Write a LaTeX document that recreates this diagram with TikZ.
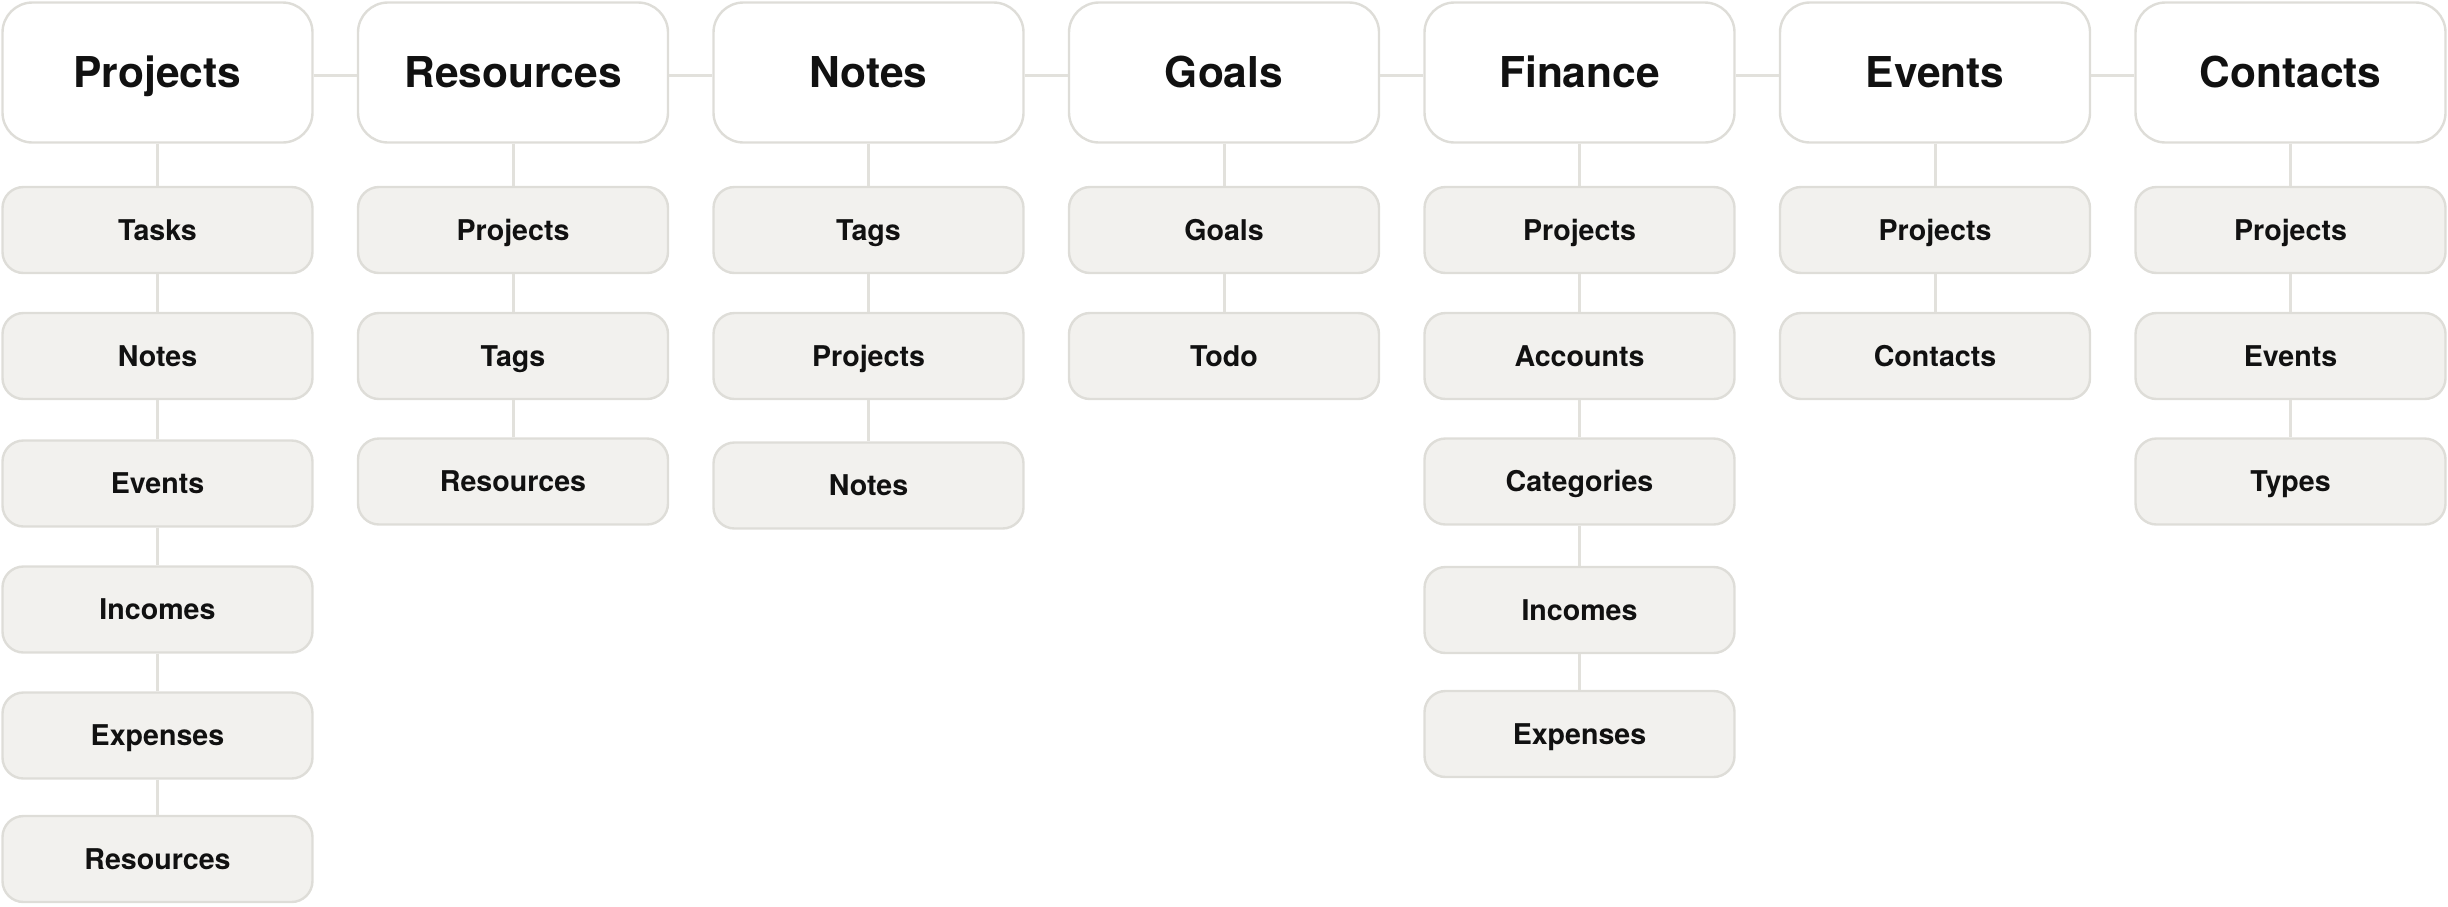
\documentclass[tikz,border=0pt]{standalone}
\usepackage{fontspec}
\setmainfont{TeX Gyre Heros}
\definecolor{bordercol}{HTML}{DEDDD8}
\definecolor{childfill}{HTML}{F2F1EE}
\definecolor{linecol}{HTML}{E2E1DC}
\definecolor{textcol}{HTML}{111111}
\tikzset{
  headbox/.style={draw=bordercol, line width=2.4pt, fill=white, rounded corners=30pt,
    minimum width=310pt, minimum height=140pt, inner sep=0pt, text=textcol,
    text height=30.5pt, text depth=0pt,
    font=\fontsize{42.5}{50}\selectfont\bfseries},
  childbox/.style={draw=bordercol, line width=2.4pt, fill=childfill, rounded corners=21pt,
    minimum width=310pt, minimum height=86pt, inner sep=0pt, text=textcol,
    text height=20.5pt, text depth=0pt,
    font=\fontsize{28.6}{34}\selectfont\bfseries},
  link/.style={draw=linecol, line width=3pt}
}
\begin{document}
\begin{tikzpicture}[x=1pt,y=-1pt]
\useasboundingbox (0,0) rectangle (2448,906);
% heads
\node[headbox] (h1) at (157.5,72.5) {Projects};
\node[headbox] (h2) at (513,72.5) {Resources};
\node[headbox] (h3) at (868.5,72.5) {Notes};
\node[headbox] (h4) at (1224,72.5) {Goals};
\node[headbox] (h5) at (1579.5,72.5) {Finance};
\node[headbox] (h6) at (1935,72.5) {Events};
\node[headbox] (h7) at (2290.5,72.5) {Contacts};
% column 1
\node[childbox] (a1) at (157.5,230) {Tasks};
\node[childbox] (a2) at (157.5,356) {Notes};
\node[childbox] (a3) at (157.5,483.5) {Events};
\node[childbox] (a4) at (157.5,609.5) {Incomes};
\node[childbox] (a5) at (157.5,735.5) {Expenses};
\node[childbox] (a6) at (157.5,859) {Resources};
% column 2
\node[childbox] (b1) at (513,230) {Projects};
\node[childbox] (b2) at (513,356) {Tags};
\node[childbox] (b3) at (513,481.5) {Resources};
% column 3
\node[childbox] (n1) at (868.5,230) {Tags};
\node[childbox] (n2) at (868.5,356) {Projects};
\node[childbox] (n3) at (868.5,485.5) {Notes};
% column 4
\node[childbox] (g1) at (1224,230) {Goals};
\node[childbox] (g2) at (1224,356) {Todo};
% column 5
\node[childbox] (f1) at (1579.5,230) {Projects};
\node[childbox] (f2) at (1579.5,356) {Accounts};
\node[childbox] (f3) at (1579.5,481.5) {Categories};
\node[childbox] (f4) at (1579.5,610) {Incomes};
\node[childbox] (f5) at (1579.5,734) {Expenses};
% column 6
\node[childbox] (e1) at (1935,230) {Projects};
\node[childbox] (e2) at (1935,356) {Contacts};
% column 7
\node[childbox] (c1) at (2290.5,230) {Projects};
\node[childbox] (c2) at (2290.5,356) {Events};
\node[childbox] (c3) at (2290.5,481.5) {Types};
% horizontal links
\foreach \p/\q in {h1/h2,h2/h3,h3/h4,h4/h5,h5/h6,h6/h7}
  \draw[link] ([yshift=-2.5pt]\p.east) -- ([yshift=-2.5pt]\q.west);
% vertical links
\foreach \p/\q in {h1/a1,a1/a2,a2/a3,a3/a4,a4/a5,a5/a6,
                   h2/b1,b1/b2,b2/b3,
                   h3/n1,n1/n2,n2/n3,
                   h4/g1,g1/g2,
                   h5/f1,f1/f2,f2/f3,f3/f4,f4/f5,
                   h6/e1,e1/e2,
                   h7/c1,c1/c2,c2/c3}
  \draw[link] (\p.south) -- (\q.north);
\end{tikzpicture}
\end{document}
